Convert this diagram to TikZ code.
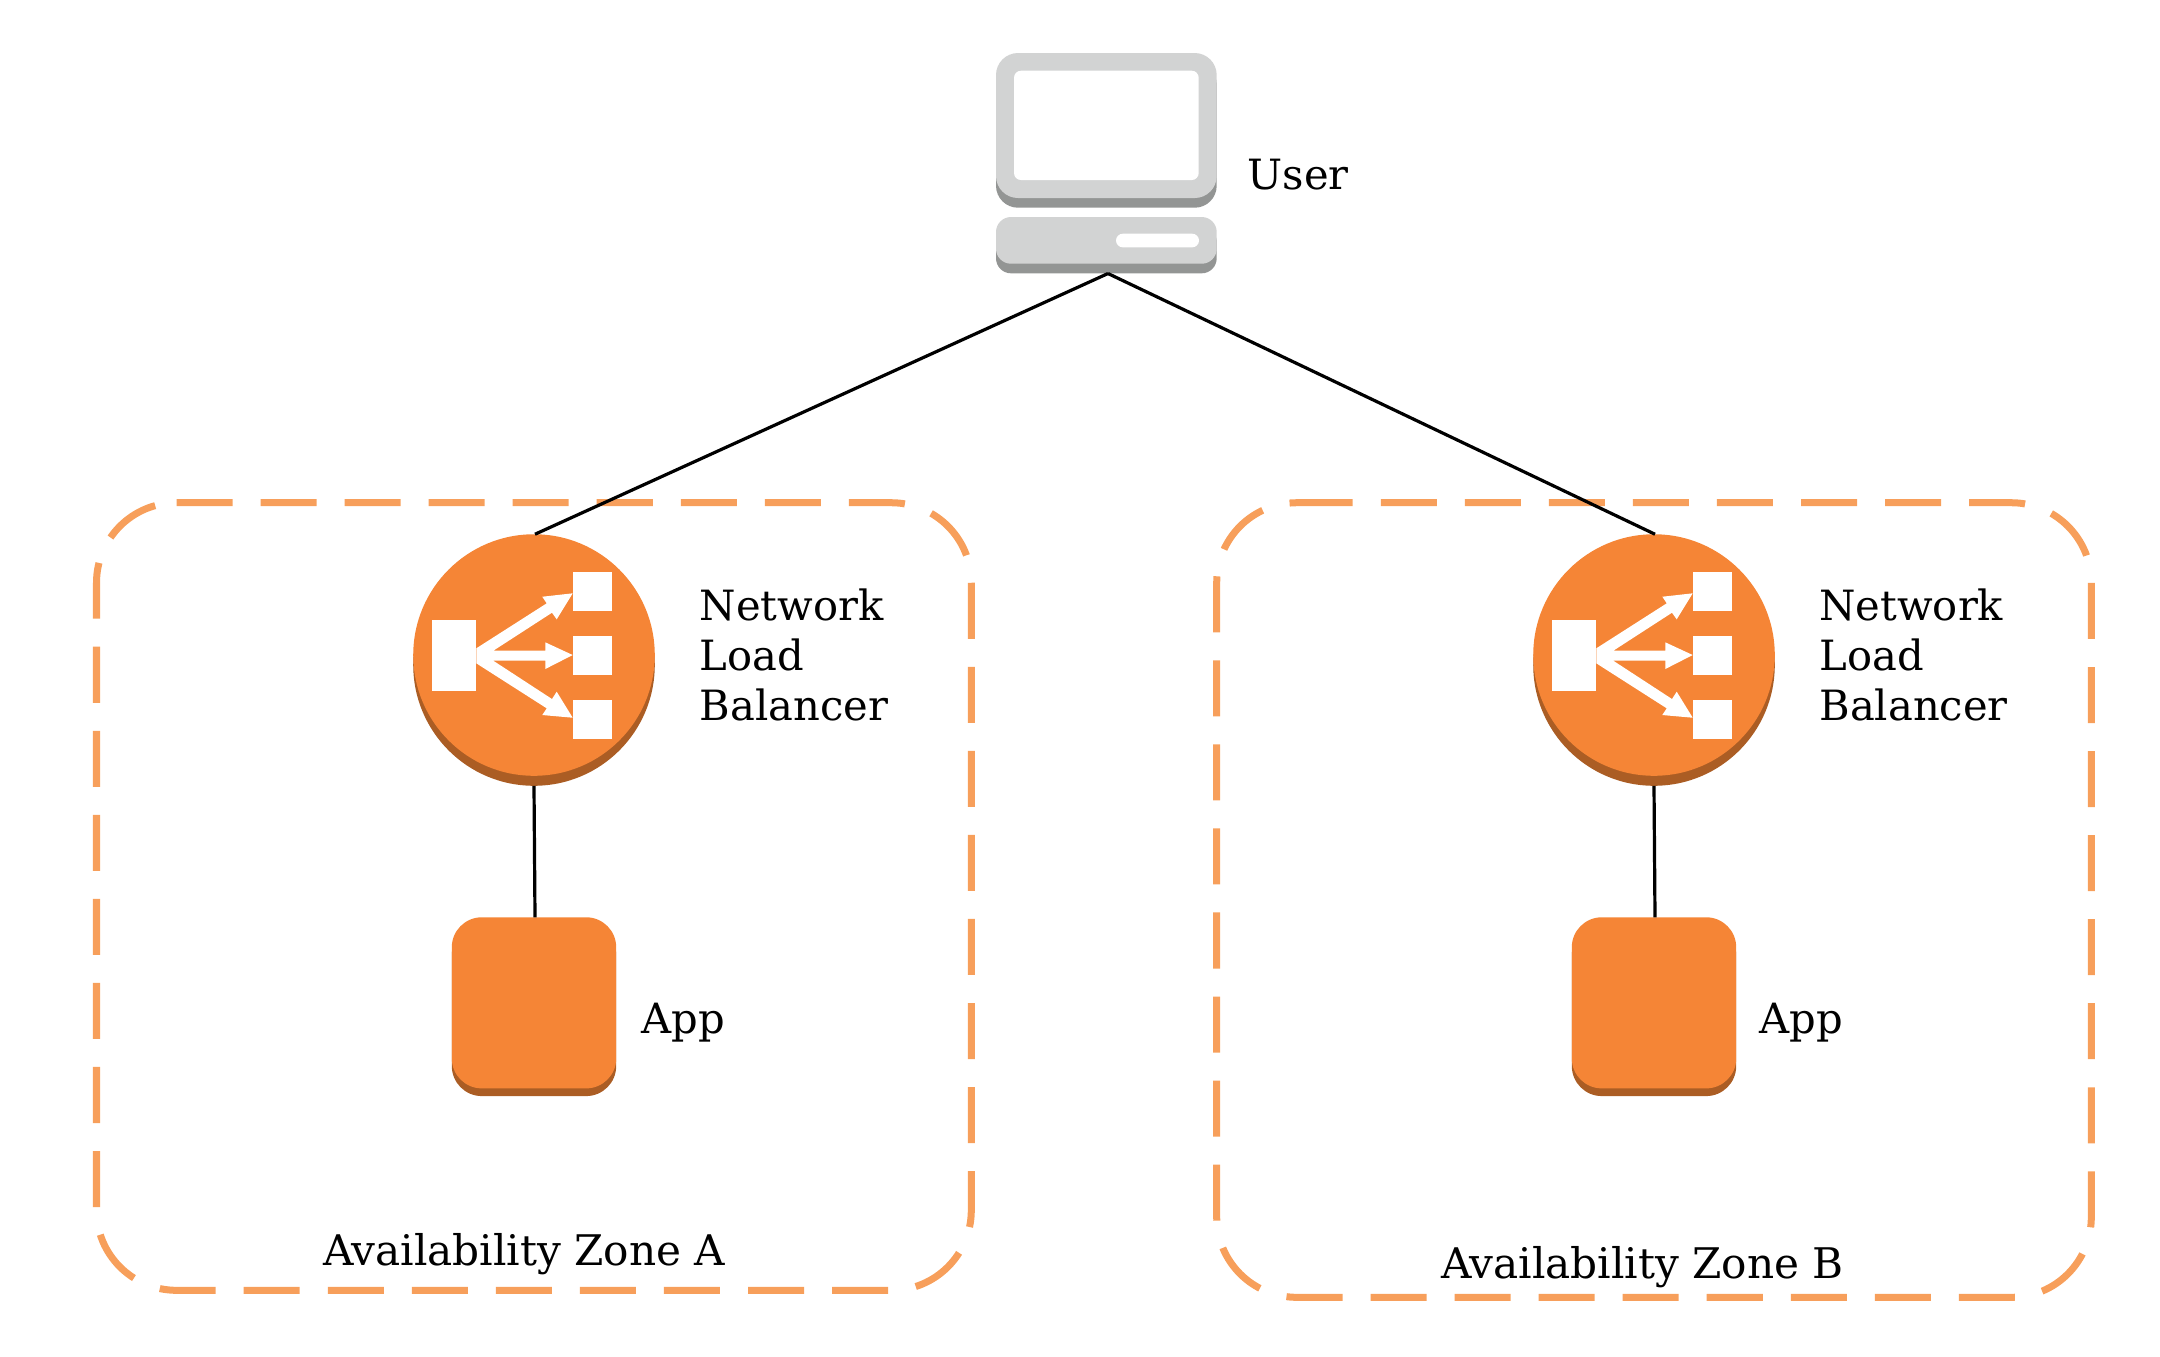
\documentclass[tikz,border=0pt]{standalone}
\usepackage{fontspec}
\setmainfont{DejaVu Serif}
\usepackage{xcolor}
\definecolor{awsorange}{HTML}{F58536}
\definecolor{awsbrown}{HTML}{AB5D24}
\definecolor{zoneorange}{HTML}{F79F5B}
\definecolor{pclight}{HTML}{D2D3D3}
\definecolor{pcdark}{HTML}{939594}
\tikzset{
	every node/.style={inner sep=0, outer sep=0},
	label text/.style={font=\fontsize{11.85}{14.3}\selectfont, align=left, text=black},
	zone text/.style={font=\fontsize{12}{14.3}\selectfont, text=black},
	lb disc/.style={circle, minimum size=2.414cm},
	app box/.style={rectangle, rounded corners=.3cm, minimum width=1.643cm, minimum height=1.71cm},
	zone/.style={draw=zoneorange, line width=.07cm, rounded corners=.8cm, dash pattern=on .56cm off .28cm},
	link/.style={draw=black, line width=.032cm},
	lb glyph/.pic={
		\fill[white] (-101.7, -35) rectangle (-57.7, 36);
		\fill[white] (38.7, -83) rectangle (77.7, -44);
		\fill[white] (38.7, -19) rectangle (77.7, 20);
		\fill[white] (38.7, 45) rectangle (77.7, 84);
		\fill[white] (-57.7, -6.7) -- (12.7, -51.7) -- (8.3, -58.3) -- (38.7, -61.7) -- (22.7, -35.7) -- (18, -42.3)
			-- (-40.7, -4.3) -- (11.3, -4.3) -- (11.3, -12.7) -- (38.7, 0) -- (11.3, 14) -- (11.3, 5.7)
			-- (-40.7, 5.7) -- (18, 44) -- (22.7, 36.7) -- (38.7, 62.7) -- (8.3, 60) -- (12.7, 53.3)
			-- (-57.7, 8.3) -- cycle;
	}
}
\begin{document}
\begin{tikzpicture}[x=.01cm, y=-.01cm]
	\useasboundingbox (0, 0) rectangle (2160, 1356);
	\coordinate (UserPort) at (1108, 273.5);

	% zones
	\draw[zone] (176.5, 502.7) -- (971.3, 502.7) -- (971.3, 1290.3) -- (96.5, 1290.3) -- (96.5, 502.7) -- (176.5, 502.7);
	\draw[zone] (1296.7, 502.7) -- (2091.3, 502.7) -- (2091.3, 1297.3) -- (1216.7, 1297.3) -- (1216.7, 502.7) -- (1296.7, 502.7);
	\node[zone text, anchor=base west] (ZoneLabelA) at (323, 1265) {Availability Zone A};
	\node[zone text, anchor=base west] (ZoneLabelB) at (1441, 1278) {Availability Zone B};

	% user
	\fill[pcdark, rounded corners=.22cm] (996, 62.7) rectangle (1216.7, 207.7);
	\fill[pclight, rounded corners=.22cm] (996, 53) rectangle (1216.7, 198);
	\fill[white, rounded corners=.07cm] (1014, 70.7) rectangle (1198.7, 180);
	\fill[pcdark, rounded corners=.15cm] (996, 226.7) rectangle (1216.7, 273.3);
	\fill[pclight, rounded corners=.15cm] (996, 217) rectangle (1216.7, 263.7);
	\fill[white, rounded corners=.068cm] (1116, 233.7) rectangle (1199, 247.3);
	\node[label text, anchor=base west] (UserLabel) at (1247.7, 189) {User};

	% load balancers
	\node[lb disc, fill=awsbrown] (LbBaseA) at (534, 665) {};
	\node[lb disc, fill=awsorange] (LbA) at (534, 655) {};
	\pic at (LbA) {lb glyph};
	\node[label text, anchor=west] (LbLabelA) at (699.6, 655) {Network\\Load\\Balancer};

	\node[lb disc, fill=awsbrown] (LbBaseB) at (1654, 665) {};
	\node[lb disc, fill=awsorange] (LbB) at (1654, 655) {};
	\pic at (LbB) {lb glyph};
	\node[label text, anchor=west] (LbLabelB) at (1819.4, 655) {Network\\Load\\Balancer};

	% apps
	\node[app box, fill=awsbrown] (AppBaseA) at (534, 1010.5) {};
	\node[app box, fill=awsorange] (AppA) at (534, 1002.8) {};
	\node[label text, anchor=base west] (AppLabelA) at (641.5, 1033) {App};

	\node[app box, fill=awsbrown] (AppBaseB) at (1654, 1010.5) {};
	\node[app box, fill=awsorange] (AppB) at (1654, 1002.8) {};
	\node[label text, anchor=base west] (AppLabelB) at (1759.5, 1033) {App};

	% links
	\draw[link] (UserPort) -- ([xshift=.01cm]LbA.north);
	\draw[link] (UserPort) -- ([xshift=.01cm]LbB.north);
	\draw[link] (LbBaseA.south) -- ([xshift=.01cm]AppA.north);
	\draw[link] (LbBaseB.south) -- ([xshift=.01cm]AppB.north);
\end{tikzpicture}
\end{document}
